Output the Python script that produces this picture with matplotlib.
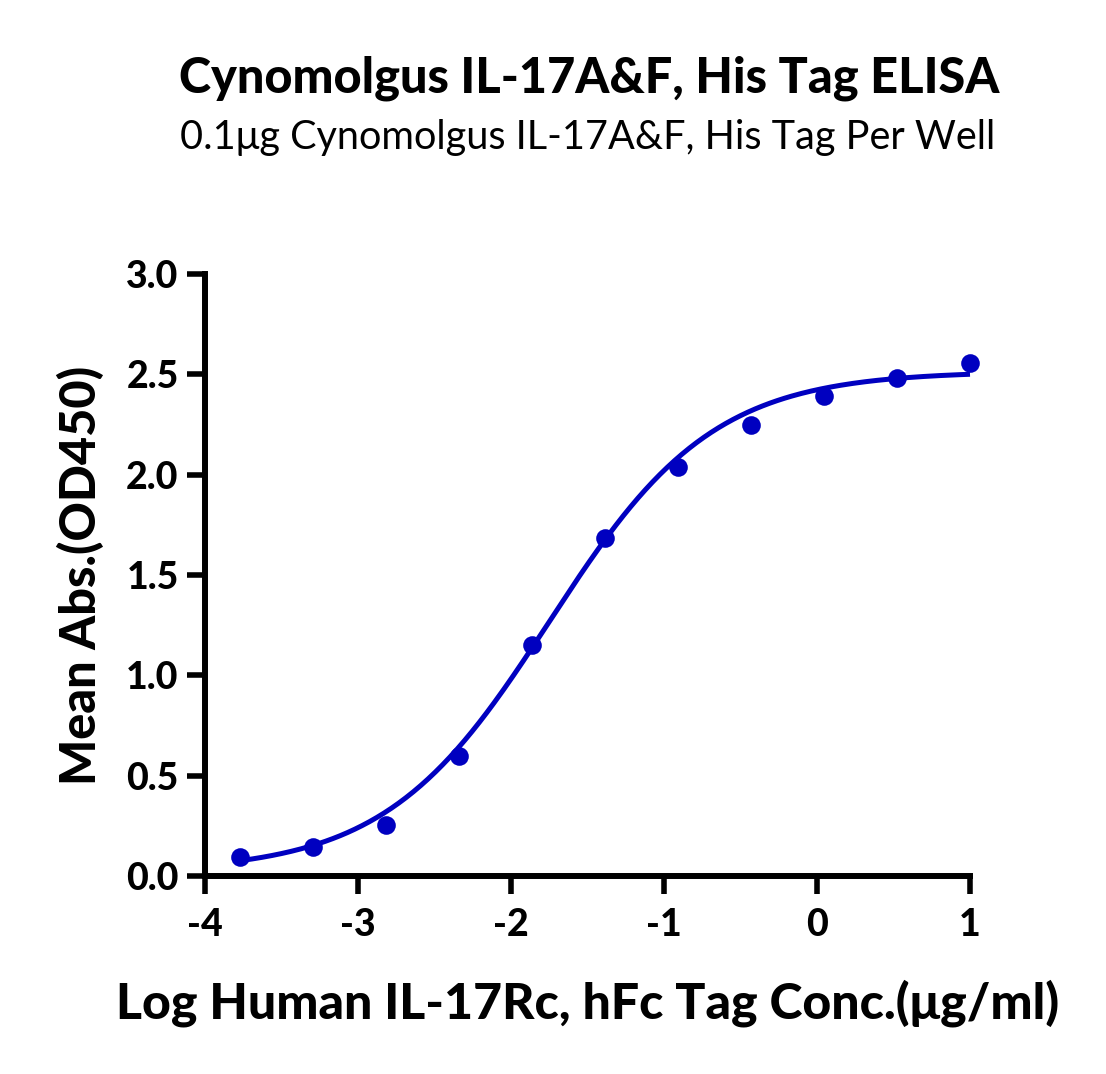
import numpy as np
import matplotlib
matplotlib.use("Agg")
import matplotlib.pyplot as plt

log_conc = [-3.771, -3.294, -2.817, -2.340, -1.863, -1.386, -0.908, -0.431, 0.046, 0.523, 1.0]
mean_abs = [0.095, 0.145, 0.254, 0.598, 1.151, 1.686, 2.036, 2.250, 2.390, 2.481, 2.556]
# 4PL fit parameters
fit_bottom, fit_top, fit_logec50, fit_hill = 0.02, 2.515, -1.75, 0.81

title = "Cynomolgus IL-17A&F, His Tag ELISA"
subtitle = "0.1\u03bcg Cynomolgus IL-17A&F, His Tag Per Well"
xlabel = "Log Human IL-17Rc, hFc Tag Conc.(\u03bcg/ml)"
ylabel = "Mean Abs.(OD450)"
xticks = [-4, -3, -2, -1, 0, 1]
yticks = [0.0, 0.5, 1.0, 1.5, 2.0, 2.5, 3.0]

plt.rcParams['font.family'] = ['Lato', 'DejaVu Sans']
color = "#0000C0"
heavy = 'black'

W, H = 1106, 1074
fig = plt.figure(figsize=(W / 100, H / 100), dpi=100)
ax = fig.add_axes([205 / W, (H - 876) / H, (970 - 205) / W, (876 - 274) / H])

xs = np.linspace(log_conc[0], log_conc[-1], 300)
ys = fit_bottom + (fit_top - fit_bottom) / (1 + 10 ** ((fit_logec50 - xs) * fit_hill))
ax.plot(xs, ys, color=color, lw=3.6, clip_on=False, zorder=3, solid_capstyle='butt')
ax.scatter(log_conc, mean_abs, s=180, color=color, clip_on=False, zorder=4, linewidths=0)

ax.set_xlim(-4, 1)
ax.set_ylim(0, 3)
ax.set_xticks(xticks)
ax.set_xticklabels([str(t) for t in xticks])
ax.set_yticks(yticks)
ax.set_yticklabels([f"{t:.1f}" for t in yticks])
for s in ['top', 'right']:
    ax.spines[s].set_visible(False)
for s in ['left', 'bottom']:
    ax.spines[s].set_linewidth(4.3)
    ax.spines[s].set_capstyle('projecting')
ax.tick_params(axis='both', width=4.0, length=13, labelsize=27)
ax.tick_params(axis='x', pad=10)
ax.tick_params(axis='y', pad=6)
for lab in ax.get_xticklabels() + ax.get_yticklabels():
    lab.set_fontweight(heavy)

fig.text(589 / W, 1 - 78 / H, title, ha='center', va='center', fontsize=35, fontweight=heavy)
fig.text(588 / W, 1 - 137 / H, subtitle, ha='center', va='center', fontsize=28.5)
fig.text(588 / W, 1 - 1003 / H, xlabel, ha='center', va='center', fontsize=36, fontweight=heavy)
fig.text(80 / W, 1 - 575 / H, ylabel, ha='center', va='center', fontsize=35, fontweight=heavy, rotation=90)

fig.savefig("out.png", dpi=100)
